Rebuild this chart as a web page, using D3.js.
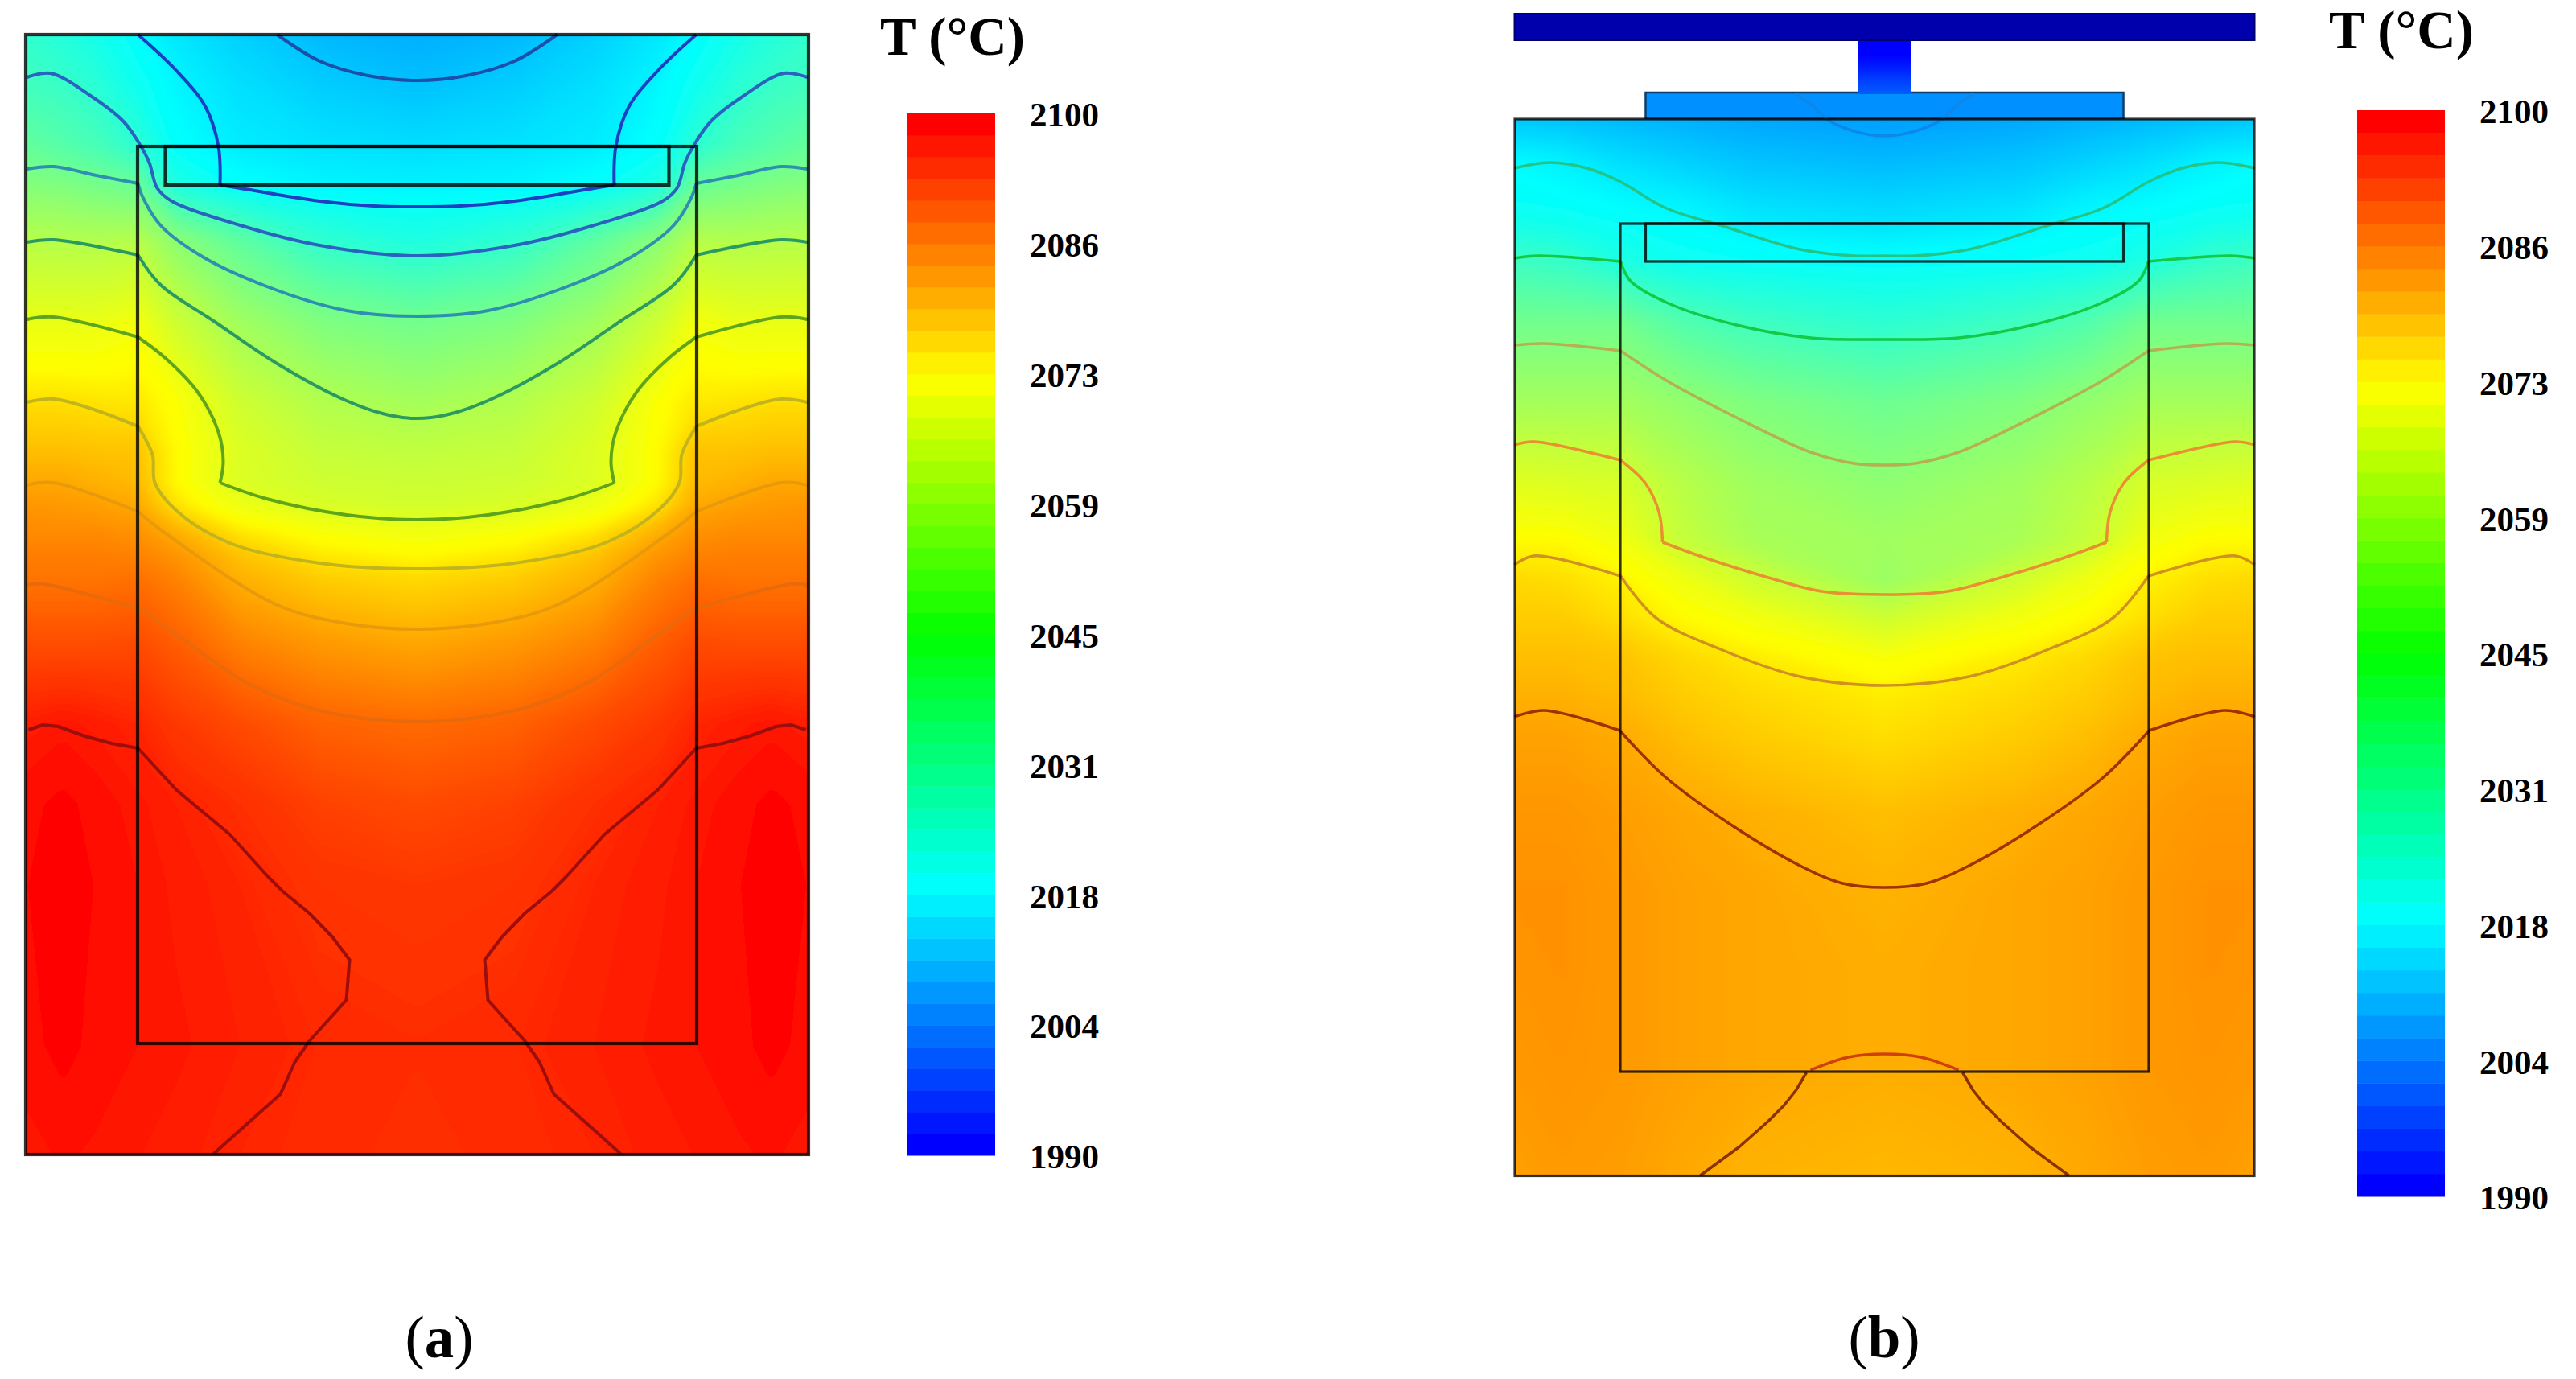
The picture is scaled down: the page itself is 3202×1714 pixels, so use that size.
<!DOCTYPE html>
<html>
<head>
<meta charset="utf-8">
<script src="https://cdn.jsdelivr.net/npm/d3@7"></script>
<style>
	body { margin: 0; background: #fff; }
	text { font-family: "Liberation Serif", serif; fill: #000; }
</style>
</head>
<body>
<script>
"use strict";

/* Colour bar */
var tickValues = [1990, 2003.75, 2017.5, 2031.25, 2045, 2058.75, 2072.5, 2086.25, 2100];
var tickLabels = ["1990", "2004", "2018", "2031", "2045", "2059", "2073", "2086", "2100"];
var barSteps = 48;

/* Panel (a): temperature, half section, r from the axis */
var aCols = [0, 12, 22, 30, 34.7, 40, 44, 48.65];
var aRows = [4.3, 10, 18.2, 23, 30, 40, 50, 56, 60, 63, 66, 69, 72, 80, 90, 100, 110, 130, 143.5];
var aTemps = [
	[2009, 2010, 2012.5, 2015, 2017.5, 2022, 2025, 2028],
	[2010.5, 2012, 2014, 2016.5, 2020, 2026, 2029, 2031],
	[2014, 2014.5, 2015.5, 2018, 2027, 2033, 2036, 2039],
	[2016, 2016.5, 2018, 2024, 2040, 2043, 2045, 2046],
	[2024, 2028, 2038, 2048, 2057, 2056, 2056.5, 2057],
	[2042, 2045, 2052, 2062, 2070, 2068, 2068, 2068],
	[2053, 2056, 2062, 2072, 2075, 2075.5, 2076, 2076],
	[2059, 2060, 2065, 2073, 2079, 2079, 2079.5, 2079.5],
	[2061.5, 2062, 2065, 2073, 2080, 2081, 2082, 2082],
	[2063, 2064.5, 2069, 2076, 2082, 2083, 2083.5, 2084],
	[2069, 2071, 2075, 2081, 2084, 2085, 2085, 2085],
	[2073, 2075, 2079, 2084, 2086, 2086.5, 2086.5, 2086.5],
	[2076.6, 2078, 2081, 2086, 2088, 2087.5, 2087.5, 2087.5],
	[2082, 2083.5, 2086, 2090, 2092, 2091.7, 2091.7, 2091.7],
	[2088.5, 2089.5, 2092, 2094, 2096, 2097, 2097.6, 2096.8],
	[2092, 2093, 2095, 2096.5, 2097.5, 2098.7, 2099.7, 2098.8],
	[2094, 2094.5, 2096, 2097, 2098, 2099.2, 2100, 2099.2],
	[2095.3, 2095.7, 2096.5, 2097.5, 2098, 2098.8, 2099.8, 2098.7],
	[2095, 2095.5, 2096, 2096.8, 2097.3, 2097.8, 2098.2, 2097.5]
];

/* Panel (b) */
var bCols = [0, 16.5, 25, 32.8, 40, 45.95];
var bRows = [14.8, 20, 25, 27.8, 32.5, 40, 50, 60, 67.3, 72, 76.8, 81.7, 86.5, 91.4, 101.1, 110.8, 120.5, 132.6, 146.1];
var bTemps = [
	[2007, 2008, 2009, 2010, 2011, 2011.5],
	[2010, 2011, 2012.5, 2014, 2016, 2017],
	[2013, 2014, 2016, 2017, 2018, 2019],
	[2014.5, 2015.5, 2017.5, 2019, 2021, 2022],
	[2018, 2019, 2020, 2024, 2029, 2031],
	[2027, 2031, 2035, 2042, 2042, 2042],
	[2041, 2045, 2049, 2053, 2053, 2053],
	[2048, 2052, 2057, 2064, 2065, 2066],
	[2052, 2054, 2060, 2070, 2073, 2073],
	[2050.5, 2062, 2069, 2074, 2076, 2076.6],
	[2062, 2070, 2073, 2076, 2078, 2078],
	[2071, 2074.7, 2076.6, 2079, 2079.5, 2079.5],
	[2074.5, 2076.6, 2078, 2080, 2081, 2081],
	[2076, 2078, 2079.5, 2081.5, 2082.5, 2082.5],
	[2079.5, 2081, 2082, 2083, 2083.8, 2083.8],
	[2080.7, 2082, 2082.6, 2083.5, 2084.3, 2084.3],
	[2081.3, 2082, 2082.6, 2083.5, 2084.3, 2084],
	[2081.3, 2082, 2082.6, 2083.5, 2084, 2083.6],
	[2080.2, 2080.8, 2081.8, 2083, 2083.4, 2082.7]
];
var stemTemps = [1990, 1990, 1993, 1997, 2000];
var plateTemp = 2005.5;

/* Isotherms, half section: [r, z], a third item 1 marks a corner */
var aIso = [
	[[17.4,4.3],[12.1,7.6],[6.1,9.4],[0,10]],
	[[34.7,4.3],[30,8.7],[26.3,13.3],[24.7,18.2],[24.5,23,1],[22,23.4],[12.1,25],[5.4,25.6],[0,25.7]],
	[[48.5,9.6],[45.6,9.1],[40.6,11.9],[36.5,15.1],[34.5,17.9],[33.3,20.2],[32.3,23.4],[30.5,25],[22,28],[12.1,30.5],[0,31.8]],
	[[48.5,21],[45.2,20.7],[39.9,21.8],[34.7,22.8,1],[34.2,24.3],[31.9,28],[26.7,31.9],[18.7,35.6],[8.8,38.6],[0,39.3]],
	[[48.5,30.1],[45.2,29.8],[34.7,31.7,1],[31.9,35.4],[25.3,39.9],[17.4,45.2],[8.8,49.8],[3.5,51.6],[0,52]],
	[[48.5,39.7],[45.2,39.4],[34.7,41.9,1],[31.3,44.5],[27.3,48.7],[24.7,53.7],[24.1,57.4],[24.5,60,1],[18.7,62],[8.8,64],[0,64.6]],
	[[48.5,50],[45.2,49.6],[39.9,51],[34.7,53,1],[32.9,56.5],[32.6,60],[30,63.4],[23.3,67.5],[12.1,70],[0,70.7]],
	[[48.5,60.3],[45.2,60],[34.7,63.6,1],[31,66.5],[17.4,75.2],[8.8,77.5],[0,78.2]],
	[[48.5,72.7],[46.5,72.6],[34.4,75.7,1],[28.6,79.8],[22,84.4],[14.7,87.6],[6.8,89.3],[0,89.7]],
	[[48.3,90.7],[46.5,90.1],[44.6,90.3],[41.3,91.5],[38,92.4],[34.7,93],[29.9,98.2],[23.3,103.7],[18.5,109],[16.7,110.8],[13.4,113.5],[10.5,116.5],[8.4,119.3],[8.8,124.3],[13.4,129.4],[15.2,132],[17,136],[25.3,143.4]]
];
var aIsoColors = ["#1c4fa8", "#1f3fc4", "#2a62c0", "#2f8fb0", "#2c9a62", "#5fa51c", "#c2b41e", "#e89a08", "#e86a08", "#9c0f0a"];
var aStraight = [9];

var bIso = [
	[[11.1,11.6],[8.5,13.5],[7.2,14.8],[3.8,16.3],[0,16.9]],
	[[46,20.9],[41.6,20.2],[37,20.9],[33,22.5],[27.1,25.9],[20.4,28],[10.5,31],[3.8,31.8],[0,31.8]],
	[[46,32.1],[43,31.8],[32.8,32.5,1],[31.6,34.9],[27.1,37.6],[18.4,40.4],[9.2,42],[0,42.2]],
	[[46,42.9],[42.3,42.7],[32.8,43.6,1],[27.1,47.3],[18.4,51.9],[9.2,56.2],[3.8,57.6],[0,57.8]],
	[[46,55.3],[43.6,54.9],[32.8,57.2,1],[29.7,60.1],[28,63.8],[27.6,67.4,1],[22.4,69.3],[15.1,71.6],[7.8,73.5],[0,73.9]],
	[[46,70.2],[43.6,69.1],[32.8,71.6,1],[28.4,76.8],[20.4,80.7],[10.5,84.1],[0,85.2]],
	[[46,89.1],[42.3,88.3],[32.9,90.8,1],[27.1,96.7],[19.1,102.5],[10.5,107.6],[5.2,109.8],[0,110.3]],
	[[9.2,133],[4.5,131.4],[0,131]],
	[[9.7,133.3],[11,135.5],[12.5,137.4],[14.5,139.4],[18,142.5],[22.9,146.1]]
];
var bIsoColors = ["#1088e8", "#22c488", "#12c846", "#b4b052", "#e89030", "#d09020", "#a03000", "#d04010", "#8a3000"];
var bStraight = [8];

/* Bodies: [half width, top, bottom] */
var aBoxes = [[48.65,4.3,143.5], [34.75,18.2,129.7], [31.3,18.2,23], [34.75,60,60]];
var bBoxes = [[45.95,14.8,146.15], [32.85,27.8,133.2], [29.7,27.8,32.5], [32.85,67.35,67.35]];
var bBar = [46.1,1.6,5.1];
var bStem = [3.3,5.1,11.5];
var bPlate = [29.7,11.5,14.8];

/* scales */
var barColor = d3.scaleLinear()
	.domain([1990, 2017.5, 2045, 2072.5, 2100])
	.range(["#0000ff", "#00ffff", "#00ff00", "#ffff00", "#ff0000"]);
// the field was shaded between mesh nodes, so its middle goes cyan to yellow without pure green
var fieldColor = d3.scaleLinear()
	.domain([1990, 2017.5, 2072.5, 2100])
	.range(["#0000ff", "#00ffff", "#ffff00", "#ff0000"]);

var svg = d3.select("body").append("svg")
	.attr("width", 3202)
	.attr("height", 1714);

var defs = svg.append("defs");
defs.append("filter").attr("id", "soft")
	.append("feGaussianBlur").attr("stdDeviation", 0.7);
// hides the facets of the coarse grid
defs.append("filter").attr("id", "fieldSoft")
	.append("feGaussianBlur").attr("stdDeviation", 6);

// filled temperature field through d3.contours
function drawField(g, cols, rows, temps, x, y) {
	var signed = cols.slice(1).reverse().map(function(r) { return -r; }).concat(cols);
	var values = [];
	temps.forEach(function(row) {
		values = values.concat(row.slice(1).reverse(), row);
	});
	var n = signed.length, m = rows.length;
	var ix = d3.scaleLinear().domain(d3.range(n)).range(signed);
	var iy = d3.scaleLinear().domain(d3.range(m)).range(rows);
	var transform = d3.geoTransform({
		point: function(px, py) {
			this.stream.point(x(ix(px - 0.5)), y(iy(py - 0.5)));
		}
	});
	var contours = d3.contours()
		.size([n, m])
		.thresholds(d3.range(1990, 2100, 0.25))(values);
	g.append("g").attr("filter", "url(#fieldSoft)")
		.selectAll("path.band")
		.data(contours)
		.enter().append("path")
		.attr("class", "band")
		.attr("d", d3.geoPath(transform))
		.attr("fill", function(d) { return fieldColor(d.value + 0.125); });
}

// break a line where a corner is marked, so the curve stays sharp there
function splitCorners(pts) {
	var out = [], cur = [];
	pts.forEach(function(p) {
		cur.push(p);
		if (p[2]) {
			out.push(cur);
			cur = [p];
		}
	});
	out.push(cur);
	return out;
}

function drawIso(g, lines, colors, straight, x, y, width) {
	var smooth = d3.line()
		.x(function(d) { return x(d[0]); })
		.y(function(d) { return y(d[1]); })
		.curve(d3.curveCatmullRom.alpha(0.5));
	var plain = d3.line()
		.x(function(d) { return x(d[0]); })
		.y(function(d) { return y(d[1]); });
	lines.forEach(function(half, i) {
		var other = half.map(function(d) { return [-d[0], d[1], d[2]]; });
		var whole = half[half.length - 1][0] === 0
			? [half.concat(other.slice(0, -1).reverse())]
			: [half, other];
		var line = straight.indexOf(i) >= 0 ? plain : smooth;
		whole.forEach(function(w) {
			splitCorners(w).forEach(function(p) {
				g.append("path")
					.attr("d", line(p))
					.attr("fill", "none")
					.attr("stroke", colors[i])
					.attr("stroke-linejoin", "round")
					.attr("stroke-width", width);
			});
		});
	});
}

function drawBoxes(g, boxes, x, y, width) {
	boxes.forEach(function(b) {
		g.append("rect")
			.attr("x", x(-b[0]))
			.attr("y", y(b[1]))
			.attr("width", x(b[0]) - x(-b[0]))
			.attr("height", y(b[2]) - y(b[1]))
			.attr("fill", "none")
			.attr("stroke", "#000")
			.attr("stroke-opacity", 0.8)
			.attr("stroke-width", width);
	});
}

function drawBar(x0, x1, top, bottom, titleX, titleY) {
	var t = d3.scaleLinear().domain([1990, 2100]).range([bottom, top]);
	var step = 110 / barSteps;
	svg.append("g").selectAll("rect")
		.data(d3.range(barSteps))
		.enter().append("rect")
		.attr("x", x0)
		.attr("width", x1 - x0)
		.attr("y", function(i) { return t(1990 + (i + 1) * step); })
		.attr("height", t(1990) - t(1990 + step) + 0.5)
		.attr("fill", function(i) { return barColor(1990 + i * 110 / (barSteps - 1)); });
	var axis = d3.axisRight(t)
		.tickValues(tickValues)
		.tickFormat(function(d, i) { return tickLabels[i]; })
		.tickSize(0)
		.tickPadding(43);
	var ag = svg.append("g")
		.attr("transform", "translate(" + x1 + ",2)")
		.call(axis);
	ag.select(".domain").remove();
	ag.selectAll("text")
		.style("font-family", '"Liberation Serif", serif')
		.style("font-weight", "bold")
		.style("font-size", "43px");
	svg.append("text")
		.attr("x", titleX)
		.attr("y", titleY)
		.style("font-weight", "bold")
		.style("font-size", "67px")
		.text("T (\u00b0C)");
}

function caption(x, y, letter) {
	var c = svg.append("text")
		.attr("x", x)
		.attr("y", y)
		.attr("text-anchor", "middle")
		.style("font-size", "73px");
	c.append("tspan").text("(");
	c.append("tspan").style("font-weight", "bold").text(letter);
	c.append("tspan").text(")");
}

// panel (a)
var ax = d3.scaleLinear().domain([-48.65, 48.65]).range([32, 1005]);
var ay = d3.scaleLinear().domain([4.3, 143.5]).range([43, 1435]);
defs.append("clipPath").attr("id", "clipA").append("rect")
	.attr("x", ax(-48.65)).attr("y", ay(4.3))
	.attr("width", ax(48.65) - ax(-48.65)).attr("height", ay(143.5) - ay(4.3));
var ga = svg.append("g").attr("clip-path", "url(#clipA)");
drawField(ga, aCols, aRows, aTemps, ax, ay);
var gaLines = svg.append("g").attr("filter", "url(#soft)");
drawIso(gaLines, aIso, aIsoColors, aStraight, ax, ay, 4);
drawBoxes(gaLines, aBoxes, ax, ay, 4.2);
drawBar(1128, 1237, 141, 1436, 1094, 68);
caption(546, 1687, "a");

// panel (b)
var bx = d3.scaleLinear().domain([-45.95, 45.95]).range([1883, 2802]);
var by = d3.scaleLinear().domain([14.8, 146.15]).range([148, 1461.5]);
var gbTop = svg.append("g");
var stemGrad = defs.append("linearGradient").attr("id", "stemGrad")
	.attr("x1", 0).attr("x2", 0).attr("y1", 0).attr("y2", 1);
stemGrad.selectAll("stop")
	.data(stemTemps)
	.enter().append("stop")
	.attr("offset", function(d, i) { return i / (stemTemps.length - 1); })
	.attr("stop-color", function(d) { return fieldColor(d); });
gbTop.append("rect")
	.attr("x", bx(-bPlate[0])).attr("y", by(bPlate[1]))
	.attr("width", bx(bPlate[0]) - bx(-bPlate[0]))
	.attr("height", by(bPlate[2]) - by(bPlate[1]))
	.attr("fill", fieldColor(plateTemp))
	.attr("stroke", "#0b3f6a").attr("stroke-width", 2.5);
gbTop.append("rect")
	.attr("x", bx(-bStem[0])).attr("y", by(bStem[1]))
	.attr("width", bx(bStem[0]) - bx(-bStem[0]))
	.attr("height", by(bStem[2]) - by(bStem[1]) + 2)
	.attr("fill", "url(#stemGrad)");
gbTop.append("rect")
	.attr("x", bx(-bBar[0]) + 1).attr("y", by(bBar[1]) + 1)
	.attr("width", bx(bBar[0]) - bx(-bBar[0]) - 2)
	.attr("height", by(bBar[2]) - by(bBar[1]) - 2)
	.attr("fill", "#0000ac")
	.attr("stroke", "#00006a").attr("stroke-width", 2);
defs.append("clipPath").attr("id", "clipB").append("rect")
	.attr("x", bx(-45.95)).attr("y", by(14.8))
	.attr("width", bx(45.95) - bx(-45.95)).attr("height", by(146.15) - by(14.8));
var gb = svg.append("g").attr("clip-path", "url(#clipB)");
drawField(gb, bCols, bRows, bTemps, bx, by);
var gbLines = svg.append("g").attr("filter", "url(#soft)");
drawIso(gbLines, bIso, bIsoColors, bStraight, bx, by, 3.5);
drawBoxes(gbLines, bBoxes, bx, by, 3.2);
drawBar(2930, 3039, 137, 1487, 2895, 60);
caption(2342, 1687, "b");
</script>
</body>
</html>
